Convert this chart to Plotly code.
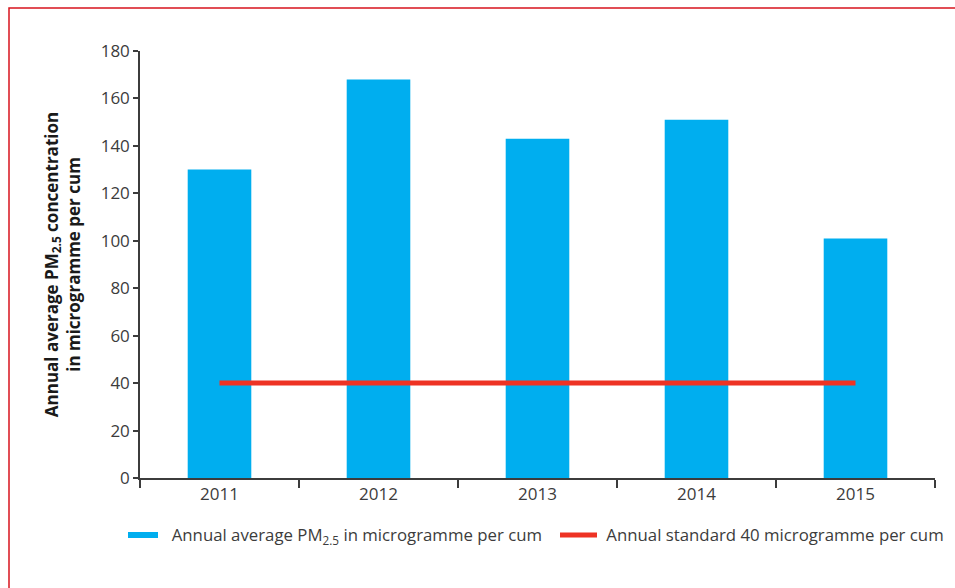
import plotly.graph_objects as go

years = ["2011", "2012", "2013", "2014", "2015"]
pm25_annual_avg = [130, 168, 143, 151, 101]
annual_standard = [40, 40, 40, 40, 40]

BAR_COLOR = "#00AEEF"
LINE_COLOR = "#EE3324"
TEXT_COLOR = "#3C3C3C"
FONT = "Open Sans, Noto Sans, sans-serif"

# plot area in pixels: x 140..935, y 51..478
L, R, T, B = 140, 20, 51, 110
W, H = 955, 588
PW, PH = W - L - R, H - T - B


def px_x(px):
    return (px - L) / PW


def px_y(py):
    return (H - B - py) / PH


fig = go.Figure()
fig.add_trace(go.Bar(
    x=years, y=pm25_annual_avg, width=0.4,
    marker=dict(color=BAR_COLOR, line=dict(width=0)),
    showlegend=False,
))
fig.add_trace(go.Scatter(
    x=years, y=annual_standard, mode="lines",
    line=dict(color=LINE_COLOR, width=5),
    showlegend=False,
))
# legend entries drawn as short thick lines like the original, one legend each
fig.add_trace(go.Scatter(
    x=[None], y=[None], mode="lines", legend="legend",
    line=dict(color=BAR_COLOR, width=6),
    name="&nbsp;&nbsp;Annual average PM<sub>2.5</sub> in microgramme per cum",
))
fig.add_trace(go.Scatter(
    x=[None], y=[None], mode="lines", legend="legend2",
    line=dict(color=LINE_COLOR, width=5),
    name="&nbsp;Annual standard 40 microgramme per cum",
))

legend_style = dict(
    orientation="h", xref="container", xanchor="left",
    yref="container", y=1 - 535 / H, yanchor="middle",
    font=dict(size=16.8, color=TEXT_COLOR),
    bgcolor="rgba(0,0,0,0)",
)

fig.update_layout(
    width=W, height=H,
    margin=dict(l=L, r=R, t=T, b=B),
    plot_bgcolor="white", paper_bgcolor="white",
    font=dict(family=FONT, size=17, color=TEXT_COLOR),
    bargap=0.6,
    legend=dict(legend_style, x=123 / W, itemwidth=30),
    legend2=dict(legend_style, x=555 / W, itemwidth=37),
    xaxis=dict(
        showline=True, linecolor=TEXT_COLOR, linewidth=1.5,
        ticks="outside", ticklen=8, tickcolor=TEXT_COLOR, tickwidth=1.5,
        tickson="boundaries", showgrid=False,
        tickfont=dict(size=17, color=TEXT_COLOR),
    ),
    yaxis=dict(
        range=[0, 180], dtick=20, showgrid=False, zeroline=False,
        showline=True, linecolor=TEXT_COLOR, linewidth=1.5,
        ticks="outside", ticklen=5, tickcolor=TEXT_COLOR, tickwidth=1.5,
        tickfont=dict(size=17, color=TEXT_COLOR),
        title=dict(
            text="<b>Annual average PM<sub>2.5</sub> concentration<br>in microgramme per cum</b>",
            font=dict(size=17, color="#1A1A1A"),
            standoff=16,
        ),
    ),
    shapes=[dict(
        type="rect", xref="paper", yref="paper",
        x0=px_x(9), x1=px_x(1000), y0=px_y(8), y1=px_y(700),
        line=dict(color="#D7141E", width=1.5), layer="below",
    )],
)

fig.write_html(
    "out.html",
    config={"displayModeBar": False},
    post_script="document.body.style.margin='0';",
)
